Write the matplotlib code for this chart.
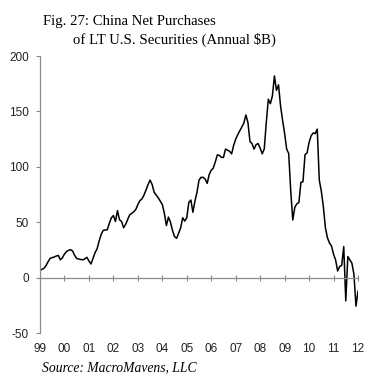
import numpy as np
import matplotlib
matplotlib.use('Agg')
import matplotlib.pyplot as plt
import matplotlib.transforms as mtransforms

# China net purchases of LT U.S. securities, 12m sum ($B), monthly Jan 1999 - Jan 2012
start_year = 1999
net_purchases = [
    6.5, 7.5, 8.5, 11, 14.5, 17.5, 18, 18.6, 19.5, 20, 16, 18,            # 1999
    21.3, 23.5, 24.6, 25.2, 24, 20, 17.2, 16.8, 16.3, 16, 17, 18.3,       # 2000
    15, 12.3, 17.5, 22.5, 26, 33, 39, 42.6, 43, 43.2, 49, 54,             # 2001
    56, 50.7, 60.5, 52.2, 50.7, 45, 48, 52.5, 56.7, 58, 59.5, 61.5,       # 2002
    66, 69.5, 71, 74.5, 79, 84, 88, 84, 77, 74.5, 72, 69,                 # 2003
    66, 58, 47, 54.6, 50, 42.5, 37, 35.5, 40, 45, 54, 51,                 # 2004
    54, 68, 70, 59, 69, 77, 88, 90.5, 90.5, 89, 85, 93,                   # 2005
    97, 98.8, 104.5, 110.8, 110.3, 108.5, 108.5, 116, 115, 114, 111.7, 119.5,  # 2006
    125, 129, 132.5, 136, 139.5, 146.8, 140, 122.8, 121, 116, 120, 121,   # 2007
    116.8, 111.7, 116, 140, 161, 157, 164, 182, 169, 174, 155, 142,       # 2008
    130, 116, 112, 78, 52, 63.5, 66.6, 67.8, 86, 86.5, 111, 112.5,        # 2009
    122, 128, 130.5, 130, 134, 88, 78, 64, 45, 36, 31.2, 28.5,            # 2010
    21, 16, 6, 10, 11, 28, -21, 19, 16, 13, 3, -25.8,                     # 2011
    -12.3,                                                                # 2012
]
year_labels = ['99', '00', '01', '02', '03', '04', '05', '06', '07', '08', '09', '10', '11', '12']
y_ticks = [-50, 0, 50, 100, 150, 200]

dates = start_year + np.arange(len(net_purchases)) / 12.0
years = np.arange(start_year, start_year + len(year_labels))

fig = plt.figure(figsize=(3.75, 3.92), dpi=100)
ax = fig.add_axes([0.1067, 0.1505, 0.848, 0.7066])

ax.plot(dates, net_purchases, color='black', linewidth=1.1)

ax.set_xlim(1999, 2012)
ax.set_ylim(-50, 200)

axis_grey = '#8a8a8a'
for side in ['top', 'right']:
    ax.spines[side].set_visible(False)
ax.spines['left'].set_color(axis_grey)
ax.spines['left'].set_linewidth(0.9)
ax.spines['bottom'].set_position(('data', 0))
ax.spines['bottom'].set_color(axis_grey)
ax.spines['bottom'].set_linewidth(0.9)

ax.set_yticks(y_ticks)
ax.set_yticklabels([str(v) for v in y_ticks], fontsize=8.5, family='Liberation Sans',
                   color='#222222')
ax.tick_params(axis='y', direction='out', length=3, width=0.8, color=axis_grey, pad=5)

ax.set_xticks(years)
ax.set_xticklabels([])
ax.tick_params(axis='x', direction='inout', length=4, width=0.8, color=axis_grey)

# year labels sit under the plot, not on the zero line
trans = mtransforms.blended_transform_factory(ax.transData, ax.transAxes)
for yr, lab in zip(years, year_labels):
    ax.text(yr, -0.058, lab, transform=trans, ha='center', va='center',
            fontsize=8.5, family='Liberation Sans', color='#222222')

fig.text(0.114, 0.944, 'Fig. 27: China Net Purchases', fontsize=10.6,
         family='Liberation Serif', ha='left', va='center')
fig.text(0.194, 0.898, 'of LT U.S. Securities (Annual $B)', fontsize=10.6,
         family='Liberation Serif', ha='left', va='center')
fig.text(0.112, 0.061, 'Source: MacroMavens, LLC', fontsize=9.8,
         family='Liberation Serif', style='italic', ha='left', va='center')

fig.savefig('out.png', dpi=100, facecolor='white')
